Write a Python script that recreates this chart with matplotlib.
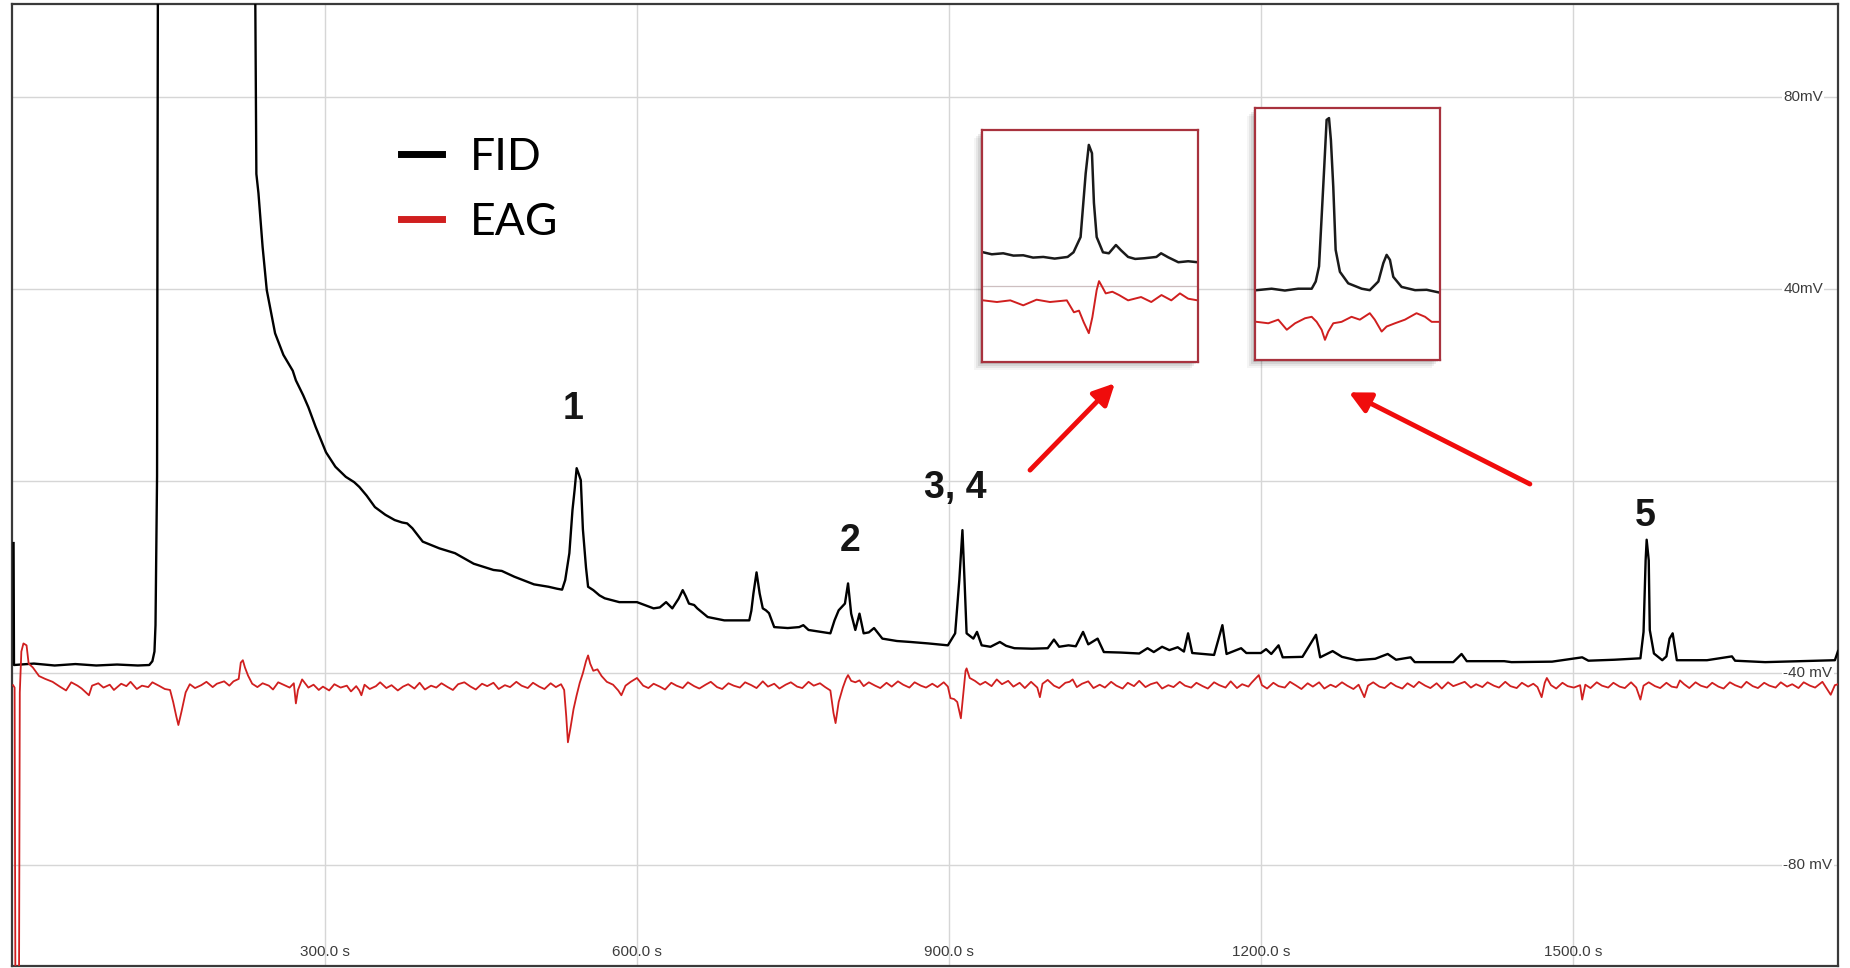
import matplotlib.pyplot as plt
from matplotlib.patches import Rectangle
from matplotlib.lines import Line2D

# FID detector trace, (retention time s, signal mV)
fid_points = [
    (0.5, -12.9), (0.9, -38.3), (20, -38.0), (40, -38.4), (60, -38.1), (80, -38.4),
    (100, -38.2), (120, -38.4), (131, -38.3), (134, -37.5), (136, -35.5), (137, -30.0),
    (138.5, 1.0), (139.5, 130), (232, 130), (233, 99), (234, 64), (236, 60), (240, 48.8),
    (244, 39.8), (252, 30.8), (260, 26.3), (269, 23.0), (272, 21.0), (279, 17.9),
    (284, 15.4), (291, 11.3), (301, 6.0), (310, 3.0), (320, 0.9), (328, -0.2),
    (333, -1.2), (340, -3.0), (348, -5.4), (358, -7.0), (367, -8.1), (374, -8.6),
    (379, -8.8), (384, -9.8), (394, -12.6), (410, -14.0), (425, -15.0), (443, -17.2),
    (462, -18.5), (470, -18.7), (482, -19.9), (501, -21.5), (515, -22.0), (523, -22.4),
    (528, -22.6), (531, -20.6), (535, -15.0), (538, -6.0), (540, -1.9), (542, 2.7),
    (544, 1.5), (546, 0.2), (548, -10.0), (551, -18.0), (553, -22.0), (558, -22.7),
    (564, -23.8), (569, -24.4), (583, -25.2), (600, -25.2), (616, -26.5), (622, -26.3),
    (628, -25.2), (634, -26.5), (640, -24.5), (644, -22.7), (647, -24.0), (650, -25.5),
    (655, -25.8), (658, -26.5), (668, -28.3), (684, -29.0), (708, -29.0), (710, -27.0),
    (712, -23.4), (715, -19.0), (718, -23.4), (721, -26.5), (724, -26.9), (727, -27.5),
    (732, -30.4), (745, -30.6), (756, -30.4), (760, -30.0), (765, -31.0), (786, -31.7),
    (790, -29.0), (794, -26.9), (800, -25.5), (803, -21.3), (806, -27.6), (810, -31.0),
    (814, -27.6), (818, -31.7), (823, -31.5), (828, -30.6), (836, -32.8), (850, -33.3),
    (863, -33.5), (880, -33.8), (899, -34.2), (906, -31.7), (910, -20.6), (913, -10.2),
    (915, -20.6), (917, -31.7), (923.5, -32.8), (927, -31.4), (931.5, -34.2), (940, -34.5),
    (949, -33.5), (955, -34.3), (963, -34.8), (980, -34.9), (995, -34.8), (1001, -33.0),
    (1006, -34.5), (1015, -34.2), (1022, -34.4), (1029, -31.4), (1034, -34.0),
    (1043, -32.8), (1049, -35.6), (1065, -35.7), (1083, -35.9), (1091, -34.8),
    (1097, -35.6), (1105, -34.5), (1112, -35.2), (1120, -34.6), (1126, -35.5),
    (1130, -31.7), (1134, -35.8), (1155, -36.2), (1163, -30.0), (1167, -36.0),
    (1181, -34.8), (1186, -35.8), (1200, -35.8), (1205, -35.0), (1210, -36.0),
    (1217, -34.2), (1221, -36.7), (1240, -36.6), (1253, -32.0), (1257, -36.7),
    (1269, -35.4), (1278, -36.6), (1292, -37.3), (1310, -37.0), (1322, -36.0),
    (1330, -37.2), (1344, -36.7), (1348, -37.7), (1385, -37.7), (1393, -36.0),
    (1398, -37.5), (1434, -37.5), (1441, -37.7), (1480, -37.6), (1509, -36.7),
    (1515, -37.4), (1540, -37.2), (1565, -36.9), (1568, -31.4), (1570, -16.5),
    (1571, -12.2), (1573, -16.5), (1574, -31.0), (1578, -35.9), (1586, -37.3),
    (1590, -36.5), (1593, -32.8), (1596, -31.7), (1598, -34.5), (1600, -37.3),
    (1629, -37.3), (1653, -36.5), (1656, -37.4), (1685, -37.7), (1720, -37.5),
    (1752, -37.3), (1755, -35.4),
]

# EAG antenna response, (retention time s, signal mV)
eag_points = [
    (0, -42.5), (1.5, -43.0), (2.5, -125), (5.5, -125), (6.5, -44.0), (8, -35.5),
    (10, -33.8), (13, -34.2), (15, -38.0), (19, -38.8), (25, -40.6), (31, -41.2),
    (38, -41.8), (45, -42.8), (51, -43.6), (56, -41.9), (62, -42.6), (66, -43.2),
    (73, -44.6), (76, -42.6), (82, -42.1), (87, -43.0), (93, -42.4), (97, -43.5),
    (104, -42.2), (109, -42.7), (113, -41.8), (119, -43.3), (124, -42.6), (130, -42.9),
    (134, -41.9), (141, -42.7), (146, -43.3), (151, -43.5), (154, -46.0), (157, -49.0),
    (159, -50.8), (162, -48.0), (166, -44.0), (170, -42.3), (175, -43.1), (181, -42.5),
    (186, -41.8), (192, -42.9), (196, -42.2), (203, -41.7), (208, -42.6), (212, -41.7),
    (217, -41.2), (219, -37.8), (221, -37.3), (223, -38.8), (226, -40.5), (230, -42.2),
    (235, -42.9), (240, -42.1), (246, -42.6), (250, -43.4), (255, -41.9), (261, -42.5),
    (266, -43.0), (270, -42.1), (272, -46.3), (274, -43.5), (278, -41.3), (284, -43.0),
    (289, -42.4), (294, -43.5), (298, -42.8), (304, -43.6), (309, -42.3), (315, -43.0),
    (321, -42.6), (325, -43.8), (330, -42.7), (333, -43.6), (335, -44.6), (338, -42.4),
    (343, -43.3), (349, -42.7), (353, -41.9), (359, -43.1), (364, -42.5), (370, -43.6),
    (375, -42.8), (380, -42.3), (386, -43.2), (391, -42.0), (396, -43.4), (402, -42.6),
    (407, -43.0), (412, -42.1), (418, -42.9), (423, -43.5), (428, -42.3), (434, -41.9),
    (440, -42.8), (445, -43.4), (451, -42.2), (456, -42.7), (462, -42.0), (467, -43.3),
    (473, -42.5), (478, -42.9), (484, -41.8), (489, -42.6), (495, -43.1), (500, -42.0),
    (506, -42.8), (511, -43.3), (517, -42.1), (522, -42.9), (527, -42.3), (530, -43.5),
    (532, -49.0), (533.6, -54.4), (536, -51.5), (539, -47.5), (542, -44.6), (545, -42.0),
    (548, -40.0), (551, -37.5), (553, -36.3), (555, -38.0), (558, -39.5), (562, -39.2),
    (566, -40.6), (571, -41.8), (577, -42.4), (582, -43.6), (585, -44.6), (589, -42.6),
    (594, -41.8), (600, -41.0), (606, -42.6), (611, -43.1), (616, -42.2), (622, -42.8),
    (627, -43.4), (633, -42.0), (638, -42.6), (644, -43.1), (649, -41.9), (655, -42.7),
    (660, -43.2), (666, -42.4), (671, -41.8), (677, -42.9), (682, -43.3), (688, -42.1),
    (693, -42.6), (699, -43.0), (704, -41.9), (710, -42.5), (715, -43.1), (721, -41.7),
    (726, -42.8), (732, -42.2), (737, -43.2), (743, -42.4), (748, -41.9), (754, -42.8),
    (759, -43.1), (765, -41.8), (770, -42.6), (776, -42.1), (781, -42.9), (786, -43.6),
    (789, -48.3), (791, -50.4), (794, -46.0), (798, -43.0), (801, -41.2), (803, -40.4),
    (806, -41.6), (810, -41.9), (814, -41.5), (818, -42.7), (823, -41.9), (829, -42.6),
    (834, -43.1), (840, -42.0), (845, -42.8), (851, -41.7), (856, -42.4), (862, -43.0),
    (867, -41.9), (873, -42.6), (878, -43.0), (884, -42.2), (889, -42.9), (895, -41.9),
    (899, -42.8), (901.5, -45.2), (905, -45.4), (908, -46.0), (911.5, -49.4),
    (914, -43.9), (916, -39.5), (917, -39.0), (920, -41.0), (925, -41.6), (930, -42.4),
    (935, -41.8), (941, -42.7), (946, -41.3), (951, -42.3), (957, -41.6), (962, -42.8),
    (968, -42.0), (973, -43.1), (979, -41.8), (985, -43.0), (987.5, -45.0), (990, -42.2),
    (995, -41.4), (1001, -42.6), (1006, -43.1), (1012, -42.0), (1016, -41.8),
    (1019, -41.3), (1023, -42.9), (1028, -42.2), (1034, -41.7), (1039, -43.1),
    (1045, -42.4), (1050, -43.0), (1056, -41.8), (1061, -42.6), (1067, -43.2),
    (1072, -42.0), (1078, -42.7), (1083, -41.6), (1089, -42.9), (1094, -42.3),
    (1100, -41.9), (1105, -43.2), (1111, -42.5), (1116, -42.9), (1122, -41.8),
    (1127, -42.6), (1133, -43.0), (1138, -42.0), (1144, -42.7), (1149, -43.2),
    (1155, -41.9), (1160, -42.5), (1166, -43.0), (1171, -41.7), (1177, -43.1),
    (1182, -42.3), (1188, -42.8), (1191, -42.0), (1198, -40.4), (1201, -42.5),
    (1206, -43.2), (1212, -42.0), (1217, -42.7), (1223, -43.0), (1228, -41.8),
    (1234, -42.6), (1239, -43.3), (1245, -42.1), (1250, -42.8), (1256, -41.9),
    (1261, -43.2), (1267, -42.4), (1272, -42.9), (1278, -41.9), (1283, -42.6),
    (1289, -43.3), (1294, -42.4), (1299.5, -45.0), (1303, -42.6), (1308, -41.9),
    (1314, -42.8), (1319, -43.1), (1325, -42.0), (1330, -42.7), (1336, -43.2),
    (1341, -42.1), (1347, -42.9), (1352, -41.8), (1358, -42.6), (1363, -43.1),
    (1369, -42.1), (1374, -43.2), (1380, -41.9), (1385, -42.7), (1391, -42.2),
    (1396, -41.8), (1402, -43.0), (1407, -42.3), (1413, -42.9), (1418, -41.9),
    (1424, -42.6), (1429, -43.0), (1435, -41.8), (1440, -42.7), (1446, -43.1),
    (1451, -42.0), (1457, -42.8), (1462, -42.2), (1466, -42.9), (1470, -45.0),
    (1473, -42.0), (1475, -41.0), (1479, -42.5), (1484, -43.2), (1490, -42.0),
    (1495, -42.7), (1501, -43.0), (1507, -42.5), (1509, -45.5), (1512, -42.4),
    (1517, -43.1), (1523, -41.9), (1528, -42.6), (1534, -43.0), (1539, -42.0),
    (1545, -42.8), (1550, -43.1), (1556, -41.9), (1561, -43.0), (1565, -45.5),
    (1568, -42.6), (1573, -41.9), (1579, -42.7), (1584, -43.1), (1590, -42.0),
    (1595, -42.8), (1600, -43.0), (1603, -41.5), (1607, -42.3), (1612, -43.1),
    (1618, -41.9), (1623, -42.6), (1629, -43.0), (1634, -42.0), (1640, -42.8),
    (1645, -43.2), (1651, -41.9), (1656, -42.5), (1662, -43.0), (1667, -41.8),
    (1673, -42.7), (1678, -43.1), (1684, -42.0), (1689, -42.6), (1695, -43.0),
    (1700, -41.9), (1706, -42.8), (1711, -42.3), (1717, -43.1), (1722, -41.9),
    (1728, -42.6), (1733, -43.0), (1740, -41.8), (1748, -44.5), (1752, -42.5),
    (1755, -42.3),
]

# enlarged views of peaks 3, 4 and of peak 5
zoom34_fid = [
    (885.3, -36.9), (887.5, -37.5), (890.4, -37.2), (893, -37.9), (895.5, -37.8),
    (898, -38.5), (900.6, -38.3), (903.5, -38.8), (906.8, -38.3), (908.3, -36.9),
    (910.1, -32.3), (911.4, -13.1), (912.2, -4.5), (913.0, -7.0), (913.5, -22.0),
    (914.2, -32.3), (915.8, -36.9), (917.3, -37.2), (919.1, -34.7), (920.4, -36.3),
    (922.2, -38.3), (924, -38.9), (926.3, -38.7), (929.4, -38.3), (930.6, -37.2),
    (932.4, -38.4), (935.0, -39.9), (937.5, -39.6), (939.9, -39.9),
]
zoom34_eag = [
    (885.3, -51.4), (888.8, -51.9), (892.2, -51.4), (895.5, -52.9), (898.9, -51.2),
    (902.3, -51.9), (906.6, -51.4), (907.6, -53.4), (908.4, -55.0), (909.7, -54.5),
    (910.9, -58.0), (912.2, -61.3), (913.1, -56.5), (914.2, -48.3), (914.8, -45.6),
    (915.6, -47.3), (916.5, -49.3), (918.2, -48.8), (919.9, -49.8), (922.2, -51.4),
    (925.5, -50.4), (928.1, -51.9), (930.7, -49.8), (933.2, -51.4), (935.4, -49.3),
    (937.5, -50.9), (939.9, -51.4),
]
zoom5_fid = [
    (1540.7, -50.6), (1547.0, -50.2), (1552.6, -50.7), (1558.2, -50.2), (1563.9, -50.2),
    (1565.6, -48.2), (1567.0, -44.0), (1568.1, -30.2), (1569.2, -16.3), (1570.2, -3.3),
    (1571.2, -2.8), (1572.0, -8.9), (1573.0, -21.9), (1574.0, -39.4), (1575.8, -45.5),
    (1579.3, -48.7), (1585.0, -50.2), (1588.4, -50.6), (1592.0, -48.2), (1594.1, -43.1),
    (1595.5, -40.8), (1596.9, -42.2), (1598.3, -46.9), (1601.8, -49.7), (1607.5, -50.6),
    (1612.4, -50.5), (1617.3, -51.2),
]
zoom5_eag = [
    (1540.7, -59.4), (1545.6, -59.8), (1549.8, -58.8), (1553.4, -61.6), (1556.9, -59.8),
    (1561.1, -58.4), (1563.9, -58.0), (1566.0, -59.4), (1568.1, -61.6), (1569.5, -64.4),
    (1570.9, -62.1), (1573.0, -59.8), (1576.5, -59.4), (1580.7, -58.0), (1584.2, -58.8),
    (1588.4, -57.0), (1590.5, -58.8), (1593.4, -62.1), (1595.5, -60.7), (1599.0, -59.8),
    (1603.2, -58.8), (1608.1, -57.0), (1611.7, -58.0), (1614.5, -59.4), (1617.3, -59.4),
]

x_ticks = [300, 600, 900, 1200, 1500]
x_tick_text = ["300.0 s", "600.0 s", "900.0 s", "1200.0 s", "1500.0 s"]
y_grid = [-80, -40, 0, 40, 80]
y_ticks = [80, 40, -40, -80]
y_tick_text = ["80mV", "40mV", "-40 mV", "-80 mV"]

peak_names = ["1", "2", "3, 4", "5"]
peak_label_xy = [(539, 15.0), (805, -12.4), (906, -1.4), (1570, -7.3)]

RED = "#d01f1f"
W, H = 1850, 968


def px_box(x0, y0, x1, y1):
    """figure-fraction rect from pixel box measured from the top-left"""
    return [x0 / W, (H - y1) / H, (x1 - x0) / W, (y1 - y0) / H]


fig = plt.figure(figsize=(W / 100, H / 100), dpi=100)
ax = fig.add_axes(px_box(12, 4, 1838, 966))

fid_t, fid_mv = zip(*fid_points)
eag_t, eag_mv = zip(*eag_points)
ax.plot(fid_t, fid_mv, color="black", lw=1.7, zorder=3)
ax.plot(eag_t, eag_mv, color=RED, lw=1.3, zorder=4)

ax.set_xlim(-1, 1755)
ax.set_ylim(-101, 99.4)
ax.set_xticks(x_ticks)
ax.set_yticks(y_grid)
ax.grid(True, color="#d6d6d6", lw=1.0)
ax.tick_params(length=0, labelbottom=False, labelleft=False)
for s in ax.spines.values():
    s.set_color("#3a3a3a")
    s.set_linewidth(1.6)

tick_font = dict(family=["Liberation Sans", "DejaVu Sans"], size=11, color="#3c3c3c")
for t, lab in zip(x_ticks, x_tick_text):
    ax.text(t, 0.0146, lab, transform=ax.get_xaxis_transform(),
            ha="center", va="center", **tick_font)
for v, lab in zip(y_ticks, y_tick_text):
    ax.text(0.970, v, lab, transform=ax.get_yaxis_transform(), ha="left", va="center",
            bbox=dict(facecolor="white", edgecolor="none", pad=1.0), **tick_font)

for name, (t, v) in zip(peak_names, peak_label_xy):
    ax.text(t, v, name, ha="center", va="center", fontsize=27, fontweight="bold",
            family=["Liberation Sans", "DejaVu Sans"], color="#151515")

handles = [Line2D([], [], color="black", lw=5), Line2D([], [], color=RED, lw=5)]
ax.legend(handles, ["FID", "EAG"], loc="upper left", bbox_to_anchor=(0.213, 0.862),
          frameon=False, borderpad=0, borderaxespad=0, handlelength=0.92,
          handletextpad=0.63, labelspacing=0.54,
          prop=dict(family=["Lato", "DejaVu Sans"], size=32))

# arrows from the peak labels to the enlarged views
arrow = dict(arrowstyle="-|>", color="#f00c0c", lw=3.5, mutation_scale=32,
             shrinkA=0, shrinkB=0)
ax.annotate("", xy=(1059.6, 20.4), xytext=(978, 2.3), arrowprops=arrow)
ax.annotate("", xy=(1284.6, 18.5), xytext=(1458.7, -0.6), arrowprops=arrow)


def inset(box, fid, eag, xlim, grid_mv=None):
    x0, y0, x1, y1 = box
    # soft drop shadow, down and to the left
    for k, a in enumerate([0.10, 0.08, 0.06, 0.04]):
        d = 2 + 2 * k
        fig.patches.append(Rectangle((px_box(x0 - d, y0 + d, x1 - d, y1 + d)[:2]),
                                     (x1 - x0) / W, (y1 - y0) / H,
                                     transform=fig.transFigure, facecolor="black",
                                     edgecolor="none", alpha=a, zorder=2))
    iax = fig.add_axes(px_box(*box), zorder=3)
    if grid_mv is not None:
        iax.axhline(grid_mv, color="#cdbfc0", lw=0.9)
    ft, fv = zip(*fid)
    et, ev = zip(*eag)
    iax.plot(ft, fv, color="#1a1a1a", lw=1.8)
    iax.plot(et, ev, color=RED, lw=1.4)
    iax.set_xlim(*xlim)
    iax.set_ylim(-70, 0)
    iax.set_xticks([])
    iax.set_yticks([])
    for s in iax.spines.values():
        s.set_color("#a8323e")
        s.set_linewidth(1.6)
    return iax


inset((982, 130, 1198, 362), zoom34_fid, zoom34_eag, (885, 940), grid_mv=-47)
inset((1255, 108, 1440, 360), zoom5_fid, zoom5_eag, (1540, 1618))

fig.savefig("out.png", dpi=100, facecolor="white")
